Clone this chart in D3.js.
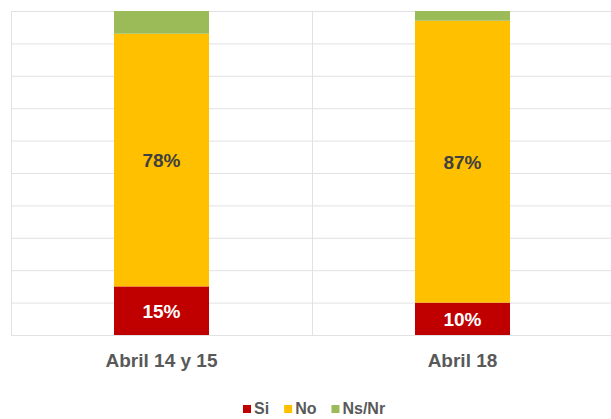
<!DOCTYPE html>
<html><head><meta charset="utf-8">
<script src="https://cdn.jsdelivr.net/npm/d3@7"></script>
<style>body{margin:0;background:#fff}svg{display:block;font-family:"Liberation Sans",Arial,sans-serif}</style>
</head><body>
<svg id="c" width="611" height="419"></svg>
<script>
const categories = ["Abril 14 y 15", "Abril 18"];
const seriesNames = ["Si", "No", "Ns/Nr"];
const si = [15, 10];
const no = [78, 87];
const nsnr = [7, 3];
const yTicks = [0,10,20,30,40,50,60,70,80,90,100];
const colors = {"Si":"#C00000","No":"#FFC000","Ns/Nr":"#9BBB59"};
const labelColors = {"Si":"#ffffff","No":"#404040"};

const svg = d3.select("#c");
const x = d3.scaleBand().domain(categories).range([11, 613]).paddingInner(0).paddingOuter(0);
const y = d3.scaleLinear().domain([0,100]).range([335, 11]);
const barW = 95;

const rows = categories.map((c,i)=>({cat:c, "Si":si[i], "No":no[i], "Ns/Nr":nsnr[i]}));
const stacked = d3.stack().keys(seriesNames)(rows);

// gridlines
svg.append("g").selectAll("line").data(yTicks).join("line")
  .attr("x1", x.range()[0]).attr("x2", x.range()[1])
  .attr("y1", d=>y(d)+0.5).attr("y2", d=>y(d)+0.5)
  .attr("stroke","#e2e2e2").attr("stroke-width",1);
const vb = categories.map(c=>x(c)).concat([x.range()[1]-1]);
svg.append("g").selectAll("line").data(vb).join("line")
  .attr("x1", d=>d+0.5).attr("x2", d=>d+0.5)
  .attr("y1", y(100)).attr("y2", y(0))
  .attr("stroke","#e2e2e2").attr("stroke-width",1);

// bars
const cx = c => x(c) + x.bandwidth()/2;
svg.append("g").selectAll("g").data(stacked).join("g")
  .attr("fill", d=>colors[d.key])
  .selectAll("rect").data(d=>d).join("rect")
  .attr("x", d=>cx(d.data.cat)-barW/2)
  .attr("width", barW)
  .attr("y", d=>y(d[1]))
  .attr("height", d=>y(d[0])-y(d[1]));

// labels
stacked.filter(s=>s.key!=="Ns/Nr").forEach(s=>{
  svg.append("g").selectAll("text").data(s).join("text")
    .attr("x", d=>cx(d.data.cat))
    .attr("y", d=>(y(d[0])+y(d[1]))/2)
    .attr("dy","0.36em")
    .attr("text-anchor","middle")
    .attr("font-size",19).attr("font-weight","bold")
    .attr("fill", labelColors[s.key])
    .text(d=>(d[1]-d[0])+"%");
});

// category labels
svg.append("g").selectAll("text").data(categories).join("text")
  .attr("x", d=>cx(d)).attr("y", 367)
  .attr("text-anchor","middle")
  .attr("font-size",19).attr("font-weight","bold").attr("fill","#595959")
  .text(d=>d);

// legend
const lg = svg.append("g");
let lx = 243;
seriesNames.forEach(n=>{
  lg.append("rect").attr("x",lx).attr("y",405).attr("width",8).attr("height",8).attr("fill",colors[n]);
  const t = lg.append("text").attr("x",lx+11).attr("y",414)
    .attr("font-size",16).attr("font-weight","bold").attr("fill","#595959").text(n);
  lx += 11 + t.node().getComputedTextLength() + 15;
});
</script>
</body></html>
